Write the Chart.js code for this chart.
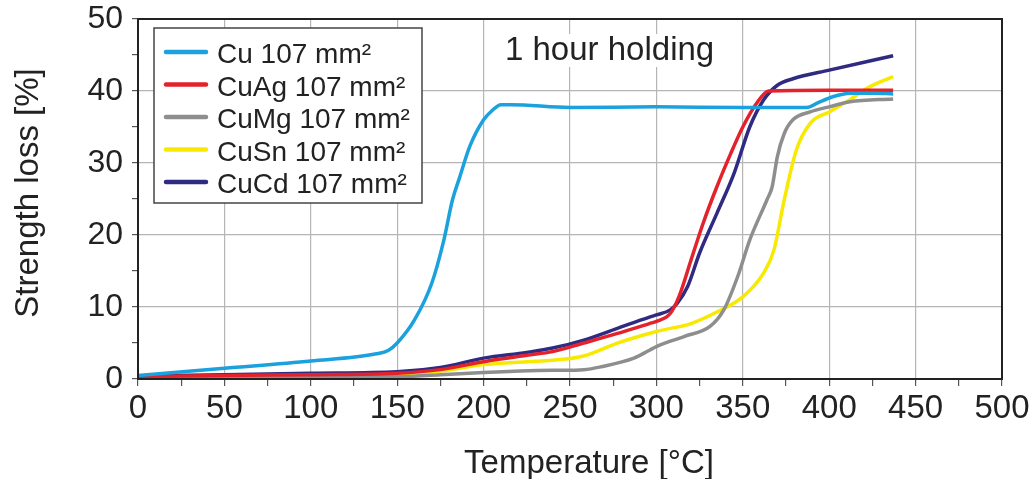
<!DOCTYPE html>
<html><head><meta charset="utf-8">
<script src="https://cdn.jsdelivr.net/npm/chart.js@4.4.1/dist/chart.umd.min.js"></script>
<style>html,body{margin:0;padding:0;background:#fff}#wrap{width:1033px;height:479px}</style>
</head><body><div id="wrap"><canvas id="c" width="1033" height="479"></canvas></div>
<script>
const seriesLabels = ['Cu 107 mm²', 'CuAg 107 mm²', 'CuMg 107 mm²', 'CuSn 107 mm²', 'CuCd 107 mm²'];
const seriesColors = ['#1ba1de', '#e3222b', '#8e8e8e', '#f7ea00', '#2f2a82'];
const annotationText = '1 hour holding';
const xTitle = 'Temperature [°C]';
const yTitle = 'Strength loss [%]';

const cuTemp = [0, 50, 100, 138, 145, 150, 160, 170, 177, 182, 186, 192, 200, 205, 210, 216, 250, 300, 350, 387, 393, 402, 412, 425, 437];
const cuLoss = [0.5, 1.5, 2.5, 3.5, 4.0, 5.0, 8.2, 13.3, 19.3, 24.9, 27.9, 32.3, 36.0, 37.3, 38.1, 38.1, 37.7, 37.8, 37.7, 37.7, 38.3, 39.2, 39.7, 39.7, 39.6];

const cuAgTemp = [0, 50, 100, 150, 175, 200, 225, 240, 258, 277, 296, 300, 308, 313, 320, 327, 335, 343, 350, 358, 365, 400, 437];
const cuAgLoss = [0.3, 0.5, 0.6, 0.8, 1.3, 2.4, 3.3, 3.8, 5.0, 6.3, 7.7, 8.0, 9.1, 11.4, 16.5, 21.6, 26.7, 31.3, 35.0, 38.3, 40.0, 40.1, 40.1];

const cuMgTemp = [0, 50, 100, 150, 175, 200, 240, 258, 268, 287, 296, 300, 316, 331, 339, 347, 354, 364, 367, 370, 374, 379, 389, 400, 412, 437];
const cuMgLoss = [0.2, 0.2, 0.25, 0.3, 0.6, 0.9, 1.2, 1.3, 1.7, 2.9, 4.0, 4.5, 5.9, 7.3, 9.6, 14.2, 19.3, 24.9, 26.7, 30.9, 34.1, 36.0, 37.1, 37.8, 38.5, 38.9];

const cuSnTemp = [0, 50, 100, 150, 175, 200, 225, 240, 258, 277, 300, 320, 335, 350, 362, 368, 374, 381, 389, 400, 412, 422, 437];
const cuSnLoss = [0.2, 0.3, 0.45, 0.6, 1.1, 2.0, 2.4, 2.6, 3.2, 4.95, 6.6, 7.7, 9.3, 11.4, 14.7, 17.9, 24.9, 31.8, 35.5, 37.1, 38.8, 40.4, 42.0];

const cuCdTemp = [0, 50, 100, 150, 175, 200, 225, 240, 258, 277, 296, 300, 308, 312, 318, 325, 335, 345, 354, 362, 370, 379, 400, 437];
const cuCdLoss = [0.4, 0.6, 0.8, 1.0, 1.6, 2.9, 3.7, 4.3, 5.4, 7.0, 8.6, 8.9, 9.6, 10.5, 12.8, 17.5, 23.0, 28.6, 35.0, 38.75, 40.8, 41.7, 42.9, 44.9];

const xTicks = [0, 50, 100, 150, 200, 250, 300, 350, 400, 450, 500];
const yTicks = [0, 10, 20, 30, 40, 50];

const temps = [cuTemp, cuAgTemp, cuMgTemp, cuSnTemp, cuCdTemp];
const losses = [cuLoss, cuAgLoss, cuMgLoss, cuSnLoss, cuCdLoss];

const FONT = '"Liberation Sans", Arial, Helvetica, sans-serif';

const datasets = seriesLabels.map((label, i) => ({
  label,
  data: temps[i].map((t, j) => ({x: t, y: losses[i][j]})),
  borderColor: seriesColors[i],
  backgroundColor: seriesColors[i],
  borderWidth: 3.5,
  pointRadius: 0,
  fill: false,
  cubicInterpolationMode: 'monotone'
}));

const overlay = {
  id: 'overlay',
  afterDraw(chart) {
    const {ctx, chartArea: a} = chart;
    ctx.save();
    // frame
    ctx.strokeStyle = '#222';
    ctx.lineWidth = 2;
    ctx.strokeRect(a.left, a.top, a.right - a.left, a.bottom - a.top);
    // annotation text
    ctx.font = '33px ' + FONT;
    ctx.textBaseline = 'alphabetic';
    ctx.textAlign = 'left';
    const tw = ctx.measureText(annotationText).width;
    const tx = a.left + 367, ty = a.top + 41;
    ctx.fillStyle = '#fff';
    ctx.fillRect(tx - 2, ty - 26, tw + 4, 33);
    ctx.fillStyle = '#222';
    ctx.fillText(annotationText, tx, ty);
    // legend box
    const bx = a.left + 16, by = a.top + 9, bw = 268, bh = 175;
    ctx.fillStyle = '#fff';
    ctx.fillRect(bx, by, bw, bh);
    ctx.lineWidth = 1.5;
    ctx.strokeStyle = '#444';
    ctx.strokeRect(bx, by, bw, bh);
    ctx.font = '28px ' + FONT;
    chart.data.datasets.forEach((ds, i) => {
      const y = by + 24 + i * 32.5;
      ctx.strokeStyle = ds.borderColor;
      ctx.lineWidth = 4.5;
      ctx.lineCap = 'round';
      ctx.beginPath();
      ctx.moveTo(bx + 12, y);
      ctx.lineTo(bx + 52, y);
      ctx.stroke();
      ctx.fillStyle = '#222';
      ctx.fillText(ds.label, bx + 63, y + 11);
    });
    // axis titles
    ctx.fillStyle = '#222';
    ctx.font = '33px ' + FONT;
    ctx.textAlign = 'center';
    ctx.textBaseline = 'alphabetic';
    ctx.fillText(xTitle, a.left + 451, a.bottom + 94);
    ctx.translate(a.left - 100, a.top + 174);
    ctx.rotate(-Math.PI / 2);
    ctx.fillText(yTitle, 0, 0);
    ctx.restore();
  }
};

new Chart(document.getElementById('c'), {
  type: 'line',
  data: {datasets},
  options: {
    responsive: false,
    animation: false,
    devicePixelRatio: 1,
    layout: {padding: {top: 19, right: 31, left: 0, bottom: 0}},
    plugins: {legend: {display: false}, tooltip: {enabled: false}},
    scales: {
      x: {
        type: 'linear', min: 0, max: 500,
        afterFit: s => { s.height = 100; s.paddingLeft = 0; s.paddingRight = 0; },
        ticks: {
          stepSize: 25, autoSkip: false, maxRotation: 0, padding: 3,
          callback: v => xTicks.includes(v) ? String(v) : '',
          color: '#222', font: {family: FONT, size: 33}
        },
        grid: {
          color: c => (c.tick && xTicks.includes(c.tick.value)) ? '#b5b5b5' : 'rgba(0,0,0,0)',
          tickColor: '#555', tickLength: 7, lineWidth: 1.2, drawTicks: true
        },
        border: {color: '#222', width: 2},
        title: {display: false}
      },
      y: {
        min: 0, max: 50,
        afterFit: s => { s.width = 138; s.paddingTop = 0; s.paddingBottom = 0; },
        ticks: {
          stepSize: 5, autoSkip: false, padding: 9,
          callback: v => yTicks.includes(v) ? String(v) : '',
          color: '#222', font: {family: FONT, size: 32, lineHeight: 1}
        },
        grid: {
          color: c => (c.tick && yTicks.includes(c.tick.value)) ? '#b5b5b5' : 'rgba(0,0,0,0)',
          tickColor: '#555', tickLength: 6, lineWidth: 1.2
        },
        border: {color: '#222', width: 2},
        title: {display: false}
      }
    }
  },
  plugins: [overlay]
});
</script>
</body></html>
